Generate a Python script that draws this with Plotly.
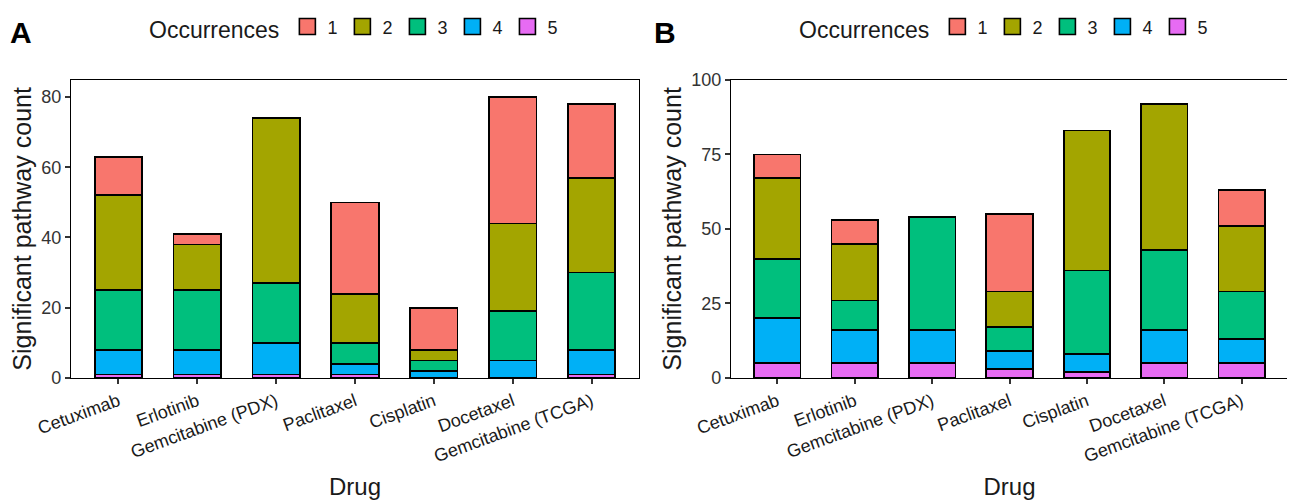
import plotly.graph_objects as go

drugs = ["Cetuximab", "Erlotinib", "Gemcitabine (PDX)", "Paclitaxel",
         "Cisplatin", "Docetaxel", "Gemcitabine (TCGA)"]
occurrences = ["1", "2", "3", "4", "5"]
colors = {"1": "#F8766D", "2": "#A3A500", "3": "#00BF7D", "4": "#00B0F6", "5": "#E76BF3"}

# Panel A counts per occurrence level
a_occ1 = [11, 3, 0, 26, 12, 36, 21]
a_occ2 = [27, 13, 47, 14, 3, 25, 27]
a_occ3 = [17, 17, 17, 6, 3, 14, 22]
a_occ4 = [7, 7, 9, 3, 2, 5, 7]
a_occ5 = [1, 1, 1, 1, 0, 0, 1]

# Panel B counts per occurrence level
b_occ1 = [8, 8, 0, 26, 0, 0, 12]
b_occ2 = [27, 19, 0, 12, 47, 49, 22]
b_occ3 = [20, 10, 38, 8, 28, 27, 16]
b_occ4 = [15, 11, 11, 6, 6, 11, 8]
b_occ5 = [5, 5, 5, 3, 2, 5, 5]

a_ticks = [0, 20, 40, 60, 80]
b_ticks = [0, 25, 50, 75, 100]

A = {"1": a_occ1, "2": a_occ2, "3": a_occ3, "4": a_occ4, "5": a_occ5}
B = {"1": b_occ1, "2": b_occ2, "3": b_occ3, "4": b_occ4, "5": b_occ5}

FONT = "Liberation Sans, Arial, sans-serif"
W, H = 1295, 502
OFF = 8  # page body margin

fig = go.Figure()

for panel, data, xa, ya, leg in [("A", A, "x", "y", "legend"), ("B", B, "x2", "y2", "legend2")]:
    for occ in ["5", "4", "3", "2", "1"]:
        fig.add_trace(go.Bar(
            x=drugs, y=data[occ], xaxis=xa, yaxis=ya, name=occ,
            marker=dict(color=colors[occ], line=dict(color="black", width=1.7)),
            width=0.6, showlegend=False,
        ))
    for i, occ in enumerate(occurrences):
        fig.add_trace(go.Scatter(
            x=[None], y=[None], xaxis=xa, yaxis=ya, name=occ, mode="markers",
            marker=dict(symbol="square", size=16, color=colors[occ],
                        line=dict(color="black", width=1.6)),
            legend=leg, legendrank=i + 1, showlegend=True,
        ))

def px_x(p):
    return (p - OFF) / W

def px_y(p):
    return 1 - (p - OFF) / H

xdomA = [px_x(71), px_x(639)]
xdomB = [px_x(731), px_x(1288)]
ydom = [px_y(376.6), px_y(75.5)]

axis_common = dict(
    showline=True, mirror=True, linecolor="black", linewidth=1.3,
    ticks="outside", ticklen=5, tickwidth=1.5, tickcolor="#333",
    showgrid=False, zeroline=False, automargin=False,
)
xcommon = dict(axis_common, tickangle=-20, range=[-0.6, 6.6],
               tickfont=dict(family=FONT, size=18, color="#1a1a1a"),
               title=dict(text="Drug", font=dict(family=FONT, size=24, color="#1a1a1a"), standoff=12))
ycommon = dict(axis_common, tickfont=dict(family=FONT, size=18, color="#333"),
               title=dict(text="Significant pathway count", font=dict(family=FONT, size=25, color="#1a1a1a"), standoff=2))

legend_common = dict(
    orientation="h", xanchor="left", yanchor="middle",
    font=dict(family=FONT, size=18, color="#1a1a1a"),
    title=dict(text="Occurrences", font=dict(family=FONT, size=23, color="#1a1a1a"), side="left"),
    bgcolor="rgba(0,0,0,0)", itemwidth=30, traceorder="normal",
)

fig.update_layout(
    width=W, height=H, autosize=False,
    margin=dict(l=0, r=0, t=0, b=0),
    paper_bgcolor="white", plot_bgcolor="white",
    barmode="stack", bargap=0.4,
    font=dict(family=FONT),
    xaxis=dict(xcommon, domain=xdomA, anchor="y"),
    yaxis=dict(ycommon, domain=ydom, anchor="x", range=[0, 84.9], tickvals=a_ticks),
    xaxis2=dict(xcommon, domain=xdomB, anchor="y2"),
    yaxis2=dict(ycommon, domain=ydom, anchor="x2", range=[0, 100], tickvals=b_ticks),
    legend=dict(legend_common, x=px_x(147), y=px_y(23.5)),
    legend2=dict(legend_common, x=px_x(797), y=px_y(23.5)),
    annotations=[
        dict(text="<b>A</b>", x=px_x(8), y=px_y(28), xref="paper", yref="paper",
             xanchor="left", yanchor="middle", showarrow=False,
             font=dict(family=FONT, size=30, color="black")),
        dict(text="<b>B</b>", x=px_x(652), y=px_y(28), xref="paper", yref="paper",
             xanchor="left", yanchor="middle", showarrow=False,
             font=dict(family=FONT, size=30, color="black")),
    ],
)

fig.write_html("out.html")
